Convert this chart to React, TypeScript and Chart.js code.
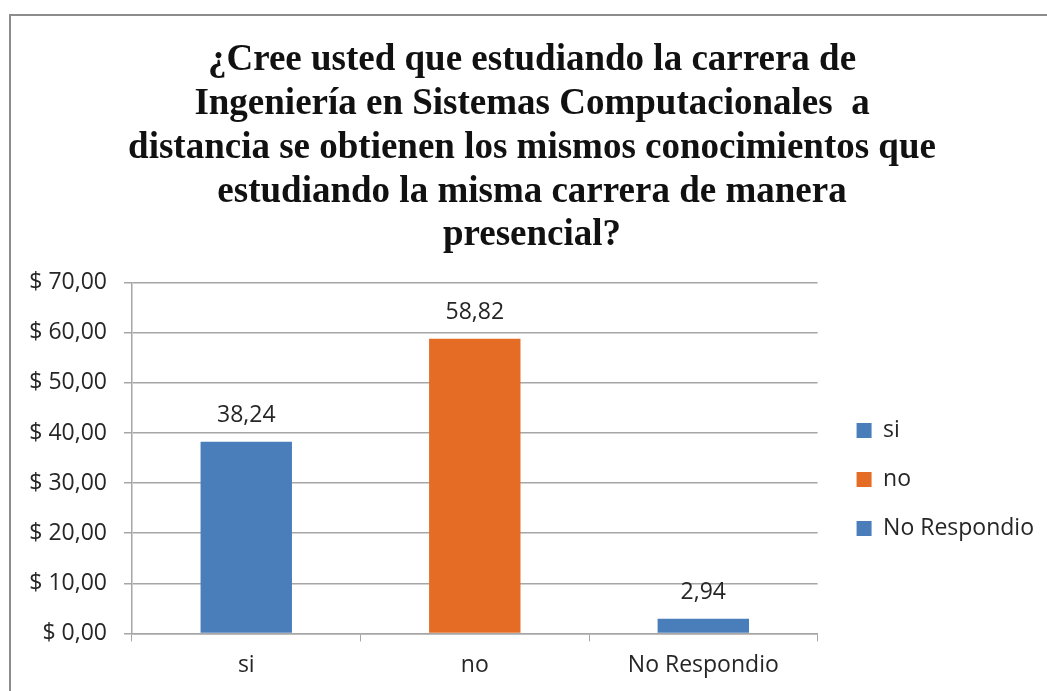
import React, { useEffect, useRef } from "react";
import { Chart, registerables } from "chart.js";

Chart.register(...registerables);

const titleLines = [
  "¿Cree usted que estudiando la carrera de",
  "Ingeniería en Sistemas Computacionales  a",
  "distancia se obtienen los mismos conocimientos que",
  "estudiando la misma carrera de manera",
  "presencial?",
];
const categories = ["si", "no", "No Respondio"];
const values = [38.24, 58.82, 2.94];
const barColors = ["#4A7EBB", "#E46C24", "#4A7EBB"];
const yTicksMin = 0;
const yTicksMax = 70;
const yTickStep = 10;

const fmt = (v: number) => v.toFixed(2).replace(".", ",");

const SANS = "'Open Sans', 'Liberation Sans', sans-serif";
const TEXT = "#262626";

const framePlugin = {
  id: "frame",
  beforeDraw(chart: any) {
    const ctx = chart.ctx;
    ctx.save();
    ctx.fillStyle = "#ffffff";
    ctx.fillRect(0, 0, chart.width, chart.height);
    ctx.strokeStyle = "#8c8c8c";
    ctx.lineWidth = 2;
    ctx.strokeRect(10, 15, chart.width + 20, chart.height + 20);
    ctx.restore();
  },
};

const valueLabels = {
  id: "valueLabels",
  afterDatasetsDraw(chart: any) {
    const ctx = chart.ctx;
    const meta = chart.getDatasetMeta(0);
    ctx.save();
    ctx.font = `23px ${SANS}`;
    ctx.fillStyle = TEXT;
    ctx.textAlign = "center";
    ctx.textBaseline = "middle";
    meta.data.forEach((bar: any, i: number) => {
      ctx.fillText(fmt(values[i]), bar.x, bar.y - 26);
    });
    ctx.restore();
  },
};

export default function App() {
  const ref = useRef<HTMLCanvasElement>(null);
  useEffect(() => {
    if (!ref.current) return;
    const chart = new Chart(ref.current, {
      type: "bar",
      data: {
        labels: categories,
        datasets: [
          {
            label: "Serie",
            data: values,
            backgroundColor: barColors,
            borderWidth: 0,
            barPercentage: 0.5,
            categoryPercentage: 0.8,
          },
        ],
      },
      options: {
        responsive: false,
        animation: false,
        layout: { padding: { left: 20, right: 3, top: 0, bottom: 2 } },
        plugins: {
          title: {
            display: true,
            text: titleLines,
            color: "#111111",
            font: { family: "'Liberation Serif', 'Times New Roman', serif", size: 37, weight: "bold", lineHeight: 1.182 },
            padding: { top: 39, bottom: 25 },
          },
          legend: {
            display: true,
            position: "right",
            fullSize: false,
            maxWidth: 320,
            title: { display: true, text: "", font: { size: 13, lineHeight: 1 }, padding: { top: 15, bottom: 15 } },
            labels: {
              boxWidth: 15,
              boxHeight: 15,
              padding: 26,
              color: TEXT,
              font: { family: SANS, size: 23 },
              generateLabels: () =>
                categories.map((c, i) => ({
                  text: c,
                  fillStyle: barColors[i],
                  strokeStyle: barColors[i],
                  fontColor: TEXT,
                  lineWidth: 0,
                  hidden: false,
                  index: i,
                  datasetIndex: 0,
                })),
            },
          },
          tooltip: { enabled: false },
        },
        scales: {
          x: {
            grid: { display: true, drawOnChartArea: false, offset: true, tickLength: 8, color: "#A6A6A6" },
            border: { color: "#A6A6A6", width: 1.5 },
            ticks: { color: TEXT, font: { family: SANS, size: 23 }, padding: 10 },
          },
          y: {
            min: yTicksMin,
            max: yTicksMax,
            grid: { color: "#A6A6A6", lineWidth: 1.5, tickLength: 8 },
            border: { color: "#A6A6A6", width: 1.5 },
            ticks: {
              stepSize: yTickStep,
              color: TEXT,
              font: { family: SANS, size: 23 },
              padding: 17,
              callback: (v: any) => "$ " + fmt(Number(v)),
            },
            afterFit: (scale: any) => {
              scale.width = 112;
            },
          },
          gap: {
            type: "linear",
            position: "right",
            display: true,
            grid: { display: false, drawOnChartArea: false, drawTicks: false },
            border: { display: false },
            ticks: { display: false },
            afterFit: (scale: any) => {
              scale.width = 13;
            },
          },
        },
      },
      plugins: [framePlugin, valueLabels],
    });
    return () => chart.destroy();
  }, []);
  return (
    <>
      <style>{`body{margin:0;overflow:hidden}`}</style>
      <canvas ref={ref} width={1047} height={691} style={{ display: "block" }} />
    </>
  );
}
